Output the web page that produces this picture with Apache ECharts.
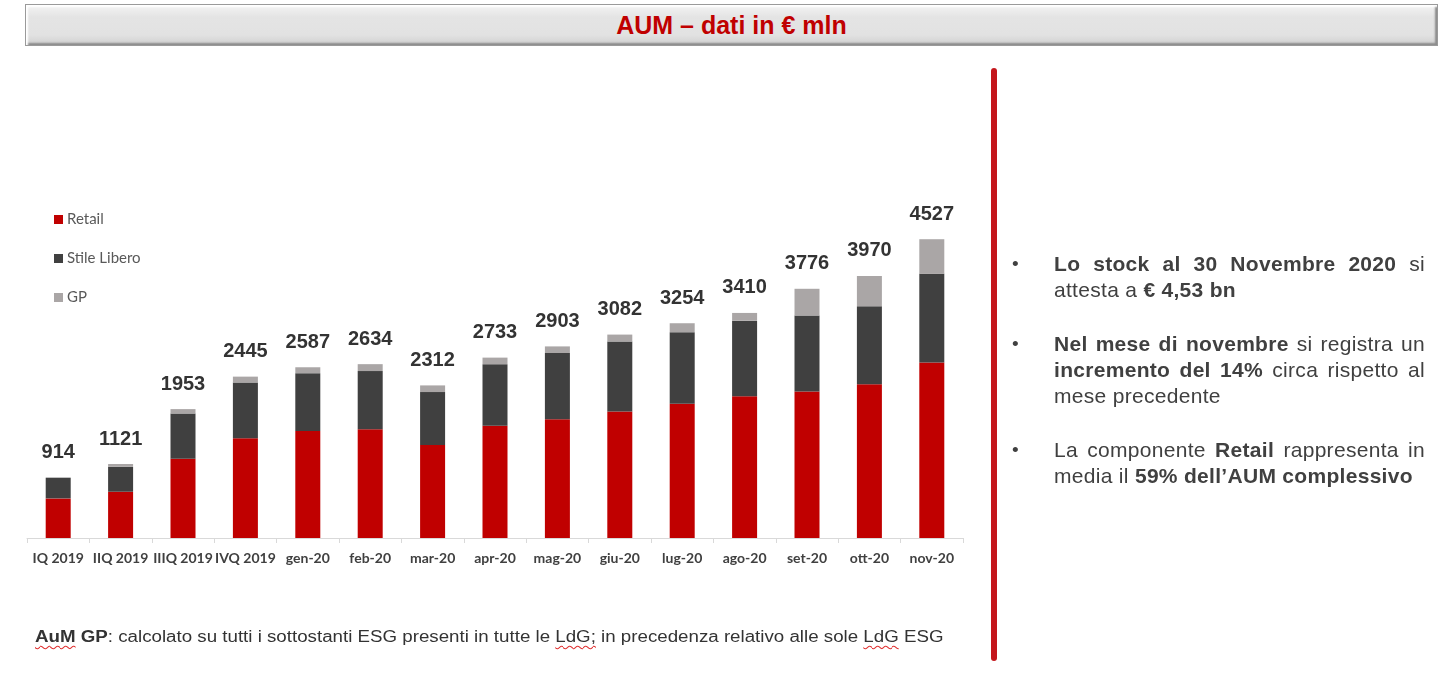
<!DOCTYPE html>
<html>
<head>
<meta charset="utf-8">
<script src="https://cdn.jsdelivr.net/npm/echarts@6/dist/echarts.min.js"></script>
<style>
  html, body { margin: 0; padding: 0; background: #fff; }
  #page { position: relative; width: 1448px; height: 678px; overflow: hidden; font-family: "Liberation Sans", Arial, sans-serif; }
  #chart { position: absolute; left: 0; top: 0; width: 1448px; height: 678px; }
  .banner {
    position: absolute; left: 25px; top: 4px; width: 1411px; height: 40px;
    background: linear-gradient(#f4f4f4, #e4e4e4 30%, #e2e2e2 75%, #cfcfcf);
    border: 1px solid #9a9a9a;
    box-shadow: inset 2px 2px 2px #ffffff, inset -2px -2px 2px #8c8c8c;
    text-align: center; line-height: 41px;
    color: #c00000; font-weight: bold; font-size: 25px;
  }
  .vline { position: absolute; left: 991px; top: 68px; width: 6px; height: 593px; background: #c4161c; border-radius: 3px; }
  .bullets { position: absolute; left: 1054px; top: 251px; width: 371px; color: #404040; font-size: 21px; letter-spacing: 0.3px; line-height: 26px; }
  .bullets p { margin: 0 0 28px 0; text-align: justify; position: relative; }
  .bullets p::before { content: "\2022"; position: absolute; left: -42px; top: 0; font-size: 19px; }
  .note { position: absolute; left: 35px; top: 628px; color: #333; font-size: 16px; white-space: nowrap; transform-origin: left top; }
  .sp { text-decoration: underline wavy #e03030; text-decoration-thickness: 1px; text-underline-offset: 3px; }
</style>
</head>
<body>
<div id="page">
  <div id="chart"></div>
  <div class="banner">AUM – dati in € mln</div>
  <div class="vline"></div>
  <div class="bullets">
    <p><b>Lo stock al 30 Novembre 2020</b> si attesta a <b>€ 4,53 bn</b></p>
    <p><b>Nel mese di novembre</b> si registra un <b>incremento del 14%</b> circa rispetto al mese precedente</p>
    <p>La componente <b>Retail</b> rappresenta in media il <b>59% dell’AUM complessivo</b></p>
  </div>
  <div class="note" id="note"><b><span class="sp">AuM</span> GP</b>: calcolato su tutti i sottostanti ESG presenti in tutte le <span class="sp">LdG;</span> in precedenza relativo alle sole <span class="sp">LdG</span> ESG</div>
</div>
<script>
var categories = ['IQ 2019', 'IIQ 2019', 'IIIQ 2019', 'IVQ 2019', 'gen-20', 'feb-20', 'mar-20',
    'apr-20', 'mag-20', 'giu-20', 'lug-20', 'ago-20', 'set-20', 'ott-20', 'nov-20'];
var retail = [600, 701, 1200, 1510, 1620, 1647, 1410, 1700, 1800, 1918, 2035, 2146, 2220, 2328, 2659];
var stileLibero = [314, 379, 686, 845, 877, 882, 801, 934, 1003, 1058, 1083, 1147, 1151, 1183, 1343];
var gp = [0, 41, 67, 90, 90, 105, 101, 99, 100, 106, 136, 117, 405, 459, 525];
var totals = [914, 1121, 1953, 2445, 2587, 2634, 2312, 2733, 2903, 3082, 3254, 3410, 3776, 3970, 4527];

var colors = ['#c00000', '#404040', '#aaa6a6'];

// stretch the footnote to the width it has in the slide
var note = document.getElementById('note');
note.style.transform = 'scaleX(' + (908 / note.offsetWidth) + ')';

var myChart = echarts.init(document.getElementById('chart'));
var option = {
    animation: false,
    color: colors,
    legend: {
        data: ['Retail', 'Stile Libero', 'GP'],
        orient: 'vertical',
        left: 49,
        top: 207,
        itemWidth: 9,
        itemHeight: 9,
        itemGap: 24,
        icon: 'rect',
        textStyle: { color: '#595959', fontSize: 15, lineHeight: 15, fontFamily: 'Lato', padding: [0, 0, 0, -1] }
    },
    grid: { left: 27, top: 208, width: 936, height: 330, containLabel: false },
    xAxis: {
        type: 'category',
        data: categories,
        axisLine: { lineStyle: { color: '#d9d9d9', width: 1 } },
        axisTick: { show: true, length: 5, lineStyle: { color: '#d9d9d9' } },
        axisLabel: { interval: 0, color: '#404040', fontWeight: 'bold', fontSize: 14, fontFamily: 'Lato', margin: 13 }
    },
    yAxis: { type: 'value', min: 0, max: 5000, show: false, splitLine: { show: false } },
    series: [
        { name: 'Retail', type: 'bar', stack: 'aum', barWidth: 25, data: retail },
        { name: 'Stile Libero', type: 'bar', stack: 'aum', data: stileLibero },
        { name: 'GP', type: 'bar', stack: 'aum', data: gp },
        {
            name: 'Totale', type: 'bar', stack: 'aum', data: totals.map(function () { return 0; }),
            itemStyle: { color: 'transparent' },
            label: {
                show: true, position: 'top', distance: 15,
                formatter: function (p) { return totals[p.dataIndex]; },
                color: '#333333', fontWeight: 'bold', fontSize: 20, fontFamily: 'Liberation Sans'
            }
        }
    ]
};
myChart.setOption(option, true);
</script>
</body>
</html>
